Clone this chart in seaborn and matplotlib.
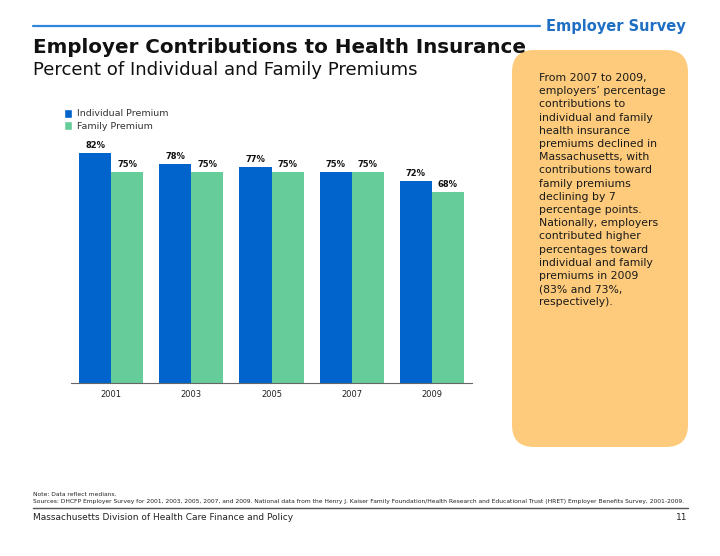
import matplotlib.pyplot as plt
import pandas as pd
import seaborn as sns
from matplotlib.patches import FancyBboxPatch, Patch

years = ["2001", "2003", "2005", "2007", "2009"]
individual = [82, 78, 77, 75, 72]
family = [75, 75, 75, 75, 68]
series_names = ["Individual Premium", "Family Premium"]

df = pd.DataFrame({
    "Year": years * 2,
    "Percent": individual + family,
    "Type": [series_names[0]] * len(years) + [series_names[1]] * len(years),
})

blue = "#0064CC"
green = "#66CC99"

sns.set_style("white")
plt.rcParams["font.family"] = ["DejaVu Sans"]

fig = plt.figure(figsize=(7.2, 5.56), dpi=100)

# decoration layer in pixel coordinates
deco = fig.add_axes([0, 0, 1, 1])
deco.set_xlim(0, 720)
deco.set_ylim(556, 0)
deco.axis("off")

deco.plot([33, 540], [26, 26], color="#2F86DA", lw=1.6)
deco.text(686, 31, "Employer Survey", ha="right", va="baseline",
          fontsize=10.5, fontweight="bold", color="#1F6FC5")
deco.text(33, 53, "Employer Contributions to Health Insurance", ha="left",
          va="baseline", fontsize=14.3, fontweight="bold", color="#111111")
deco.text(33, 75, "Percent of Individual and Family Premiums", ha="left",
          va="baseline", fontsize=13.1, color="#111111")

box = FancyBboxPatch((512, 50), 176, 397,
                     boxstyle="round,pad=0,rounding_size=22",
                     facecolor="#FDCB7B", edgecolor="none")
deco.add_patch(box)
side_text = ("From 2007 to 2009,\nemployers\u2019 percentage\ncontributions to\n"
             "individual and family\nhealth insurance\npremiums declined in\n"
             "Massachusetts, with\ncontributions toward\nfamily premiums\n"
             "declining by 7\npercentage points.\nNationally, employers\n"
             "contributed higher\npercentages toward\nindividual and family\n"
             "premiums in 2009\n(83% and 73%,\nrespectively).")
deco.text(539, 73, side_text, ha="left", va="top", fontsize=7.8,
          linespacing=1.4, color="#1a1a1a")

deco.text(33, 494, "Note: Data reflect medians.", fontsize=4.3, va="center",
          color="#222222")
deco.text(33, 501, "Sources: DHCFP Employer Survey for 2001, 2003, 2005, 2007, and 2009. "
          "National data from the Henry J. Kaiser Family Foundation/Health Research and "
          "Educational Trust (HRET) Employer Benefits Survey, 2001-2009.",
          fontsize=4.3, va="center", color="#222222")
deco.plot([33, 688], [508, 508], color="#555555", lw=1)
deco.text(33, 517, "Massachusetts Division of Health Care Finance and Policy",
          fontsize=6.5, va="center", color="#222222")
deco.text(687, 517, "11", fontsize=6.5, va="center", ha="right", color="#222222")

# chart
ax = fig.add_axes([71 / 720, 173 / 556, 401 / 720, 281 / 556])
sns.barplot(data=df, x="Year", y="Percent", hue="Type", palette=[blue, green],
            width=0.8, saturation=1, linewidth=0, ax=ax, legend=False)
for cont in ax.containers:
    ax.bar_label(cont, fmt="%d%%", fontsize=6, fontweight="bold", padding=2,
                 color="#111111")
ax.set_xlim(-0.5, 4.5)
ax.set_ylim(0, 100)
ax.set_xlabel("")
ax.set_ylabel("")
ax.set_yticks([])
ax.tick_params(axis="x", labelsize=6, length=0, pad=5, colors="#222222")
ax.patch.set_alpha(0)
for side in ["top", "right", "left"]:
    ax.spines[side].set_visible(False)
ax.spines["bottom"].set_color("#666666")
ax.spines["bottom"].set_linewidth(0.8)

handles = [Patch(facecolor=blue, label=series_names[0]),
           Patch(facecolor=green, label=series_names[1])]
fig.legend(handles=handles, loc="upper left", bbox_to_anchor=(55 / 720, 1 - 100 / 556),
           frameon=False, fontsize=6.8, handlelength=0.95, handleheight=1.1,
           handletextpad=0.45, labelspacing=0.3, labelcolor="#333333")

fig.savefig("out.png", dpi=100)
